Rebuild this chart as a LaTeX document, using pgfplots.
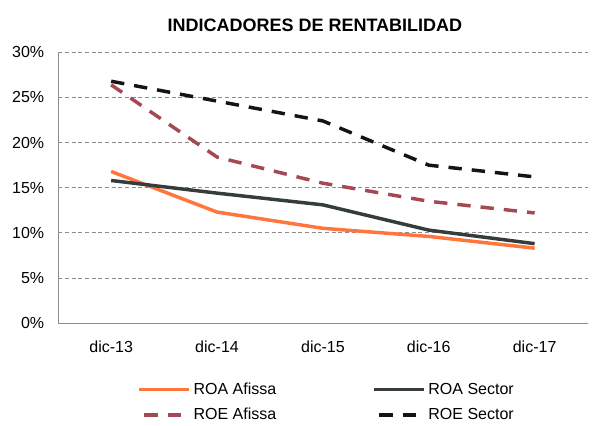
\documentclass[border=0pt]{standalone}
\usepackage{pgfplots}
\pgfplotsset{compat=1.18}
\usepackage{fontspec}
\setmainfont{Liberation Sans}
\definecolor{roaaf}{RGB}{255,118,60}
\definecolor{roasec}{RGB}{52,60,60}
\definecolor{roeaf}{RGB}{165,72,84}
\definecolor{roesec}{RGB}{20,20,20}
\begin{document}
\begin{tikzpicture}[x=0.75pt,y=0.75pt]
\path[use as bounding box] (0,0) rectangle (599,425);
\begin{axis}[
  at={(55,113)},anchor=south west,
  scale only axis,width=397pt,height=203pt,
  xmin=-0.5,xmax=4.5,ymin=0,ymax=30,
  xtick={0,1,2,3,4},xticklabels={dic-13,dic-14,dic-15,dic-16,dic-17},
  ytick={0,5,...,30},yticklabel={\pgfmathprintnumber{\tick}\%},
  /pgf/number format/assume math mode=true,
  tick label style={font=\fontsize{12}{14}\selectfont},
  major tick length=0pt,
  xticklabel style={yshift=-10pt},
  yticklabel style={xshift=-7pt},
  axis x line*=bottom,axis y line*=left,
  axis line style={draw=black!45,line width=0.6pt},
  ymajorgrids,grid style={densely dashed,black!45,line width=0.5pt},
  legend columns=2,
  legend style={draw=none,fill=none,at={(0.5,-0.2)},anchor=north,xshift=3pt,
    font=\fontsize{12}{14}\selectfont,row sep=5pt,
    /tikz/every even column/.append style={column sep=70pt}},
  legend cell align=left,
  legend image code/.code={\draw[#1,dash phase=-4pt] (0cm,0cm) -- (1.32cm,0cm);},
  title={INDICADORES DE RENTABILIDAD},
  title style={font=\fontsize{13.5}{16}\selectfont\bfseries,yshift=6pt,xshift=-6pt},
]
\addplot[color=roaaf,line width=2.6pt] coordinates {(0,16.8)(1,12.3)(2,10.5)(3,9.6)(4,8.3)};
\addlegendentry{ROA Afissa}
\addplot[color=roasec,line width=2.6pt] coordinates {(0,15.8)(1,14.4)(2,13.1)(3,10.3)(4,8.8)};
\addlegendentry{ROA Sector}
\addplot[color=roeaf,line width=2.6pt,dash pattern=on 10pt off 7.5pt] coordinates {(0,26.4)(1,18.4)(2,15.5)(3,13.5)(4,12.2)};
\addlegendentry{ROE Afissa}
\addplot[color=roesec,line width=2.6pt,dash pattern=on 10pt off 7.5pt] coordinates {(0,26.8)(1,24.6)(2,22.4)(3,17.5)(4,16.2)};
\addlegendentry{ROE Sector}
\end{axis}
\end{tikzpicture}
\end{document}
